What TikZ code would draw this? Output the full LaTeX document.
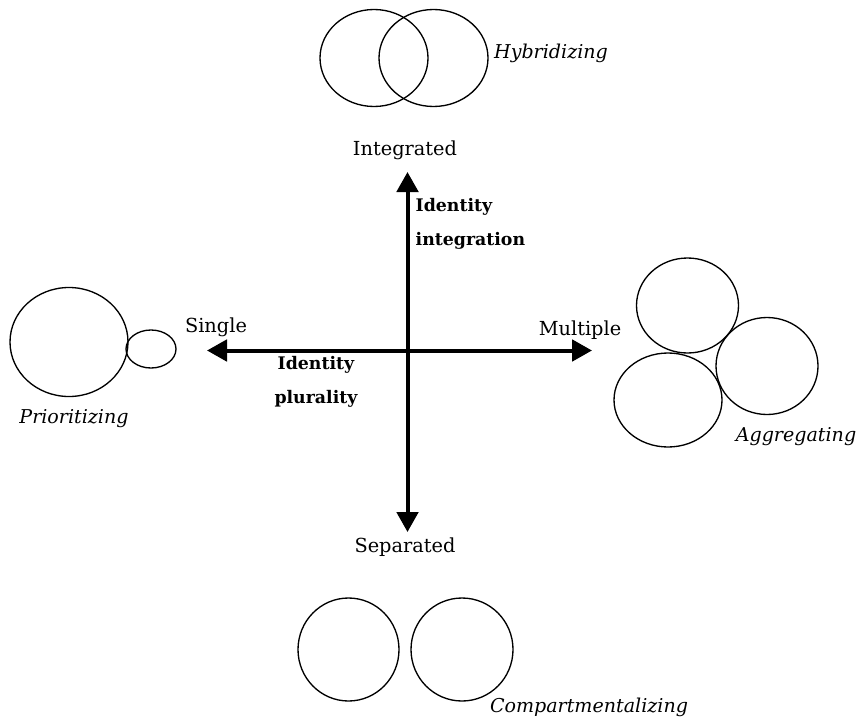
\documentclass[tikz,border=0pt]{standalone}
\usepackage{fontspec}
\setmainfont{DejaVu Serif}
\usetikzlibrary{arrows.meta,shapes.geometric}

\begin{document}
\begin{tikzpicture}[x=0.75pt, y=-0.75pt, line width=1pt]

\tikzstyle{blob} = [ellipse, draw=black, inner sep=0pt, outer sep=0pt]
\tikzstyle{pole} = [font=\fontsize{14.5}{16}\selectfont]
\tikzstyle{mode} = [font=\fontsize{14.3}{16}\selectfont\itshape]
\tikzstyle{dim} = [font=\fontsize{13}{25}\selectfont\bfseries, align=left, inner sep=0pt]
\tikzstyle{axis} = [line width=3pt, {Triangle[length=15pt, width=16pt]}-{Triangle[length=15pt, width=16pt]}]

\useasboundingbox (0,0) rectangle (859,717);

% axis ends
\coordinate (single) at (207,350.5);
\coordinate (multiple) at (592,350.5);
\coordinate (integrated) at (407.5,172);
\coordinate (separated) at (407.5,532);

\path[axis]
  (single) edge (multiple)
  (integrated) edge (separated)
;

% pole labels
\node[pole] at (405,150) (integratedlabel) {Integrated};
\node[pole] at (405,547) (separatedlabel) {Separated};
\node[pole] at (216,327) (singlelabel) {Single};
\node[pole] at (580,330) (multiplelabel) {Multiple};

\node[dim, anchor=north west] at (415,198) (integration) {Identity\\integration};
\node[dim, align=center, anchor=north] at (316,356) (plurality) {Identity\\plurality};

% hybridizing
\node[blob, minimum width=81pt, minimum height=72.75pt] at (374,58) (hybrida) {};
\node[blob, minimum width=81.75pt, minimum height=72.75pt] at (433.5,58) (hybridb) {};
\node[mode] at (551,53) (hybridizing) {Hybridizing};

% prioritizing
\node[blob, minimum width=88.5pt, minimum height=81.75pt] at (69,342) (priora) {};
\node[blob, minimum width=37.5pt, minimum height=28.5pt] at (151,349) (priorb) {};
\node[mode] at (74,419) (prioritizing) {Prioritizing};

% aggregating
\node[blob, minimum width=76.5pt, minimum height=71.25pt] at (687.5,305.5) (aggra) {};
\node[blob, minimum width=76.5pt, minimum height=72.75pt] at (767,366) (aggrb) {};
\node[blob, minimum width=81pt, minimum height=70.5pt] at (668,400) (aggrc) {};
\node[mode] at (796,437) (aggregating) {Aggregating};

% compartmentalizing
\node[blob, minimum width=75.75pt, minimum height=77.25pt] at (348.5,649.5) (compa) {};
\node[blob, minimum width=76.5pt, minimum height=77.25pt] at (462,649.5) (compb) {};
\node[mode] at (589,707) (compartmentalizing) {Compartmentalizing};

\end{tikzpicture}
\end{document}
